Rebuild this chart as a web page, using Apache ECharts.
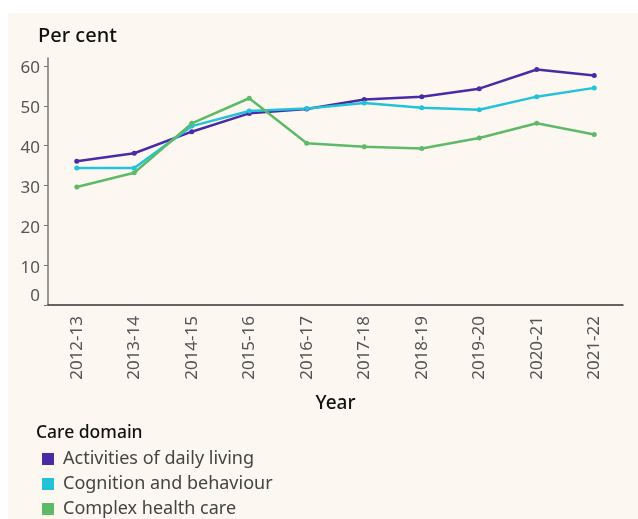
<!DOCTYPE html>
<html>
<head>
<meta charset="utf-8">
<script src="https://cdn.jsdelivr.net/npm/echarts@6/dist/echarts.min.js"></script>
<style>
  html, body { margin: 0; padding: 0; background: #fff; }
  #chart { width: 638px; height: 519px; }
</style>
</head>
<body>
<div id="chart"></div>
<script>
// values
const years = ['2012-13', '2013-14', '2014-15', '2015-16', '2016-17',
  '2017-18', '2018-19', '2019-20', '2020-21', '2021-22'];
const dailyLiving = [36.1, 38.1, 43.5, 48.1, 49.2, 51.6, 52.3, 54.3, 59.1, 57.6];
const cognition = [34.4, 34.4, 44.9, 48.7, 49.3, 50.7, 49.5, 49.0, 52.3, 54.5];
const complexCare = [29.6, 33.2, 45.6, 51.9, 40.6, 39.7, 39.3, 41.9, 45.6, 42.8];
const seriesNames = ['Activities of daily living', 'Cognition and behaviour', 'Complex health care'];
const colors = ['#4b2aa5', '#22c3d9', '#5fba67'];

const font = '"Noto Sans", sans-serif';
const chart = echarts.init(document.getElementById('chart'));

function line(name, data, color) {
  return {
    name: name,
    type: 'line',
    data: data,
    symbol: 'circle',
    symbolSize: 5,
    lineStyle: { width: 2.5, color: color },
    itemStyle: { color: color },
    emphasis: { disabled: true },
  };
}

chart.setOption({
  backgroundColor: '#ffffff',
  animation: false,
  color: colors,
  graphic: [{
    type: 'rect',
    z: -10,
    shape: { x: 8, y: 13, width: 630, height: 506 },
    style: { fill: '#fcf8f1' },
  }],
  title: [
    { text: 'Per cent', left: 38, top: 26, padding: 0,
      textStyle: { fontFamily: font, fontSize: 20, fontWeight: 500, color: '#111' } },
    { text: 'Care domain', left: 36, top: 424, padding: 0,
      textStyle: { fontFamily: font, fontSize: 17.5, fontWeight: 500, color: '#111' } },
  ],
  grid: { left: 48, right: 15, top: 58, bottom: 214, containLabel: false },
  xAxis: {
    type: 'category',
    data: years,
    boundaryGap: true,
    name: 'Year',
    nameLocation: 'middle',
    nameGap: 89,
    nameTextStyle: { fontFamily: font, fontSize: 19, fontWeight: 500, color: '#111' },
    axisLine: { lineStyle: { color: '#333', width: 1.5 } },
    axisTick: { show: false },
    axisLabel: { rotate: 90, margin: 11, fontFamily: font, fontSize: 17, color: '#555' },
    splitLine: { show: false },
  },
  yAxis: {
    type: 'value',
    min: 0,
    max: 62,
    interval: 10,
    axisLine: { show: true, lineStyle: { color: '#777', width: 1.5 } },
    axisTick: { show: true, length: 4, lineStyle: { color: '#777' } },
    splitLine: { show: false },
    axisLabel: {
      margin: 8,
      fontFamily: font, fontSize: 17, color: '#555',
      padding: [5, 0, 0, 0],
      formatter: v => (v === 0 ? '{z|0}' : '{n|' + v + '}'),
      rich: {
        n: { fontFamily: font, fontSize: 17, color: '#555' },
        z: { fontFamily: font, fontSize: 17, color: '#555', padding: [0, 0, 22, 0] },
      },
    },
  },
  legend: {
    orient: 'vertical',
    left: 42,
    top: 450,
    height: 120,
    padding: 0,
    icon: 'rect',
    itemWidth: 12,
    itemHeight: 12,
    itemGap: 7,
    data: seriesNames,
    textStyle: { fontFamily: font, fontSize: 18, color: '#444', lineHeight: 18, padding: [0, 0, 0, 4] },
  },
  series: [
    line(seriesNames[0], dailyLiving, colors[0]),
    line(seriesNames[1], cognition, colors[1]),
    line(seriesNames[2], complexCare, colors[2]),
  ],
});
</script>
</body>
</html>
